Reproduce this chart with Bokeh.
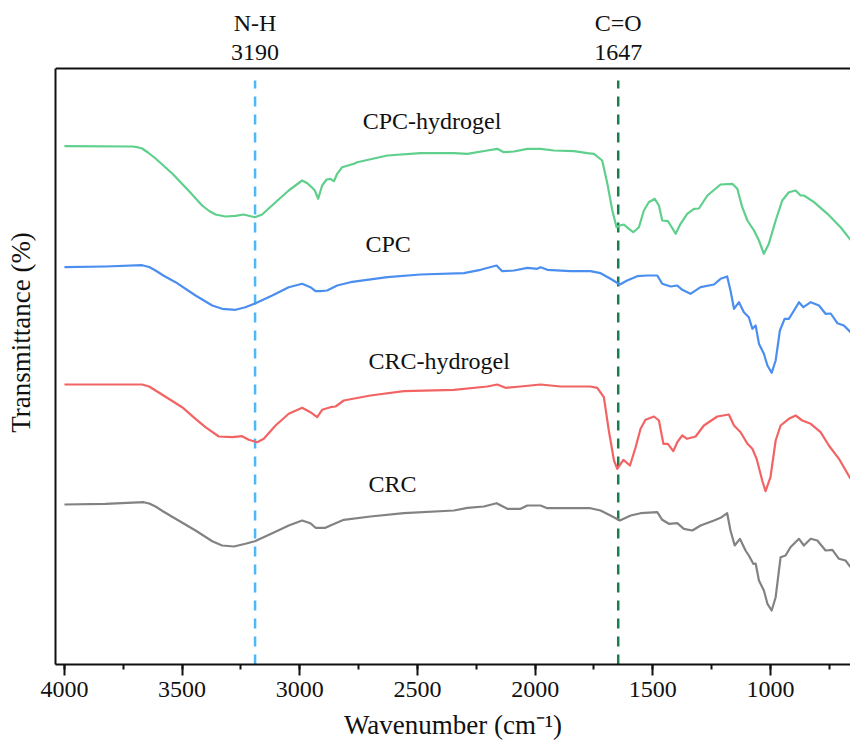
from bokeh.plotting import figure
from bokeh.models import (Range1d, FixedTicker, SingleIntervalTicker, Label, Span)
from bokeh.embed import file_html
from bokeh.resources import INLINE

# ---------------- data (arbitrary transmittance units) ----------------
cpch_wn = [4000, 3712, 3690, 3670, 3645, 3613, 3542, 3473, 3415, 3385, 3358, 3316, 3273, 3239, 3191, 3160, 3103, 3047,
           2990, 2968, 2947, 2936, 2922, 2905, 2886, 2870, 2855, 2841, 2820, 2770, 2756, 2628, 2487,
           2345, 2288, 2203, 2161, 2133, 2090, 2033, 1977, 1920, 1835, 1778, 1750, 1715, 1693, 1672,
           1654, 1640, 1623, 1602, 1583, 1559, 1538, 1517, 1492, 1474, 1460, 1436, 1424, 1403, 1382,
           1354, 1325, 1304, 1268, 1212, 1162, 1141, 1120, 1098, 1070, 1049, 1028, 1007, 978, 950,
           922, 893, 872, 858, 815, 758, 702, 660]
cpch_t = [518.3, 518, 517.3, 516, 512, 506, 491, 474, 459, 453.5, 450, 448, 448.7, 450, 447.3, 450, 462.3, 474,
          484, 481.3, 476.7, 474, 465.7, 479, 485, 485.7, 483.3, 490.7, 497.3, 500.7, 502.3, 509, 511.3,
          511.3, 510.7, 514, 515.7, 512.3, 513, 515.7, 515.7, 514, 513.3, 511.3, 510.7, 504, 480.7, 454,
          437.3, 439, 440, 435.7, 432.3, 437.3, 454, 462.3, 465.7, 459, 444, 443.3, 439, 430.7, 440.7,
          450.7, 455.7, 456, 469, 480, 480.7, 475.7, 457.3, 444, 434, 424, 410.7, 420.7, 444, 464,
          472.3, 474, 469, 469, 462.3, 450.7, 437.3, 424.7]

cpc_wn = [4000, 3826, 3670, 3640, 3613, 3580, 3528, 3443, 3372, 3330, 3273, 3231, 3188, 3117, 3047, 2990, 2955,
          2933, 2912, 2884, 2841, 2785, 2628, 2487, 2303, 2232, 2164, 2140, 2090, 2033, 1991, 1977,
          1948, 1850, 1765, 1722, 1680, 1640, 1609, 1566, 1524, 1481, 1460, 1424, 1396, 1375, 1340,
          1297, 1240, 1212, 1184, 1170, 1155, 1134, 1113, 1092, 1077, 1063, 1049, 1028, 1013, 995,
          978, 960, 940, 922, 900, 879, 860, 829, 794, 766, 744, 716, 688, 660]
cpc_t = [397.3, 398, 399.3, 397.5, 394, 389, 382.3, 369, 359, 355.7, 354.7, 357.3, 361.3, 369, 377.3, 380.7, 377.3,
         373.3, 373.3, 374, 379, 382.3, 387.3, 390, 391.3, 394.7, 399, 393.3, 394, 396.7, 395.7, 397.3,
         394.7, 393.3, 393.3, 391.3, 385.7, 380, 384, 388.3, 389, 389, 380.7, 378, 379, 374.7, 370.7,
         377.3, 380, 385.7, 388, 374, 355.7, 362.3, 352.3, 347.3, 335.7, 339, 320.7, 310.7, 299, 291.7,
         304, 334, 345.7, 345.7, 354, 362.3, 357.3, 362.3, 359, 350.7, 351, 341.3, 339, 332.3]

crch_wn = [4000, 3670, 3640, 3613, 3557, 3500, 3443, 3401, 3344, 3287, 3245, 3217, 3181, 3153, 3103, 3047,
           2990, 2955, 2926, 2905, 2870, 2848, 2813, 2700, 2558, 2345, 2203, 2161, 2126, 2062, 1977,
           1892, 1765, 1736, 1708, 1687, 1665, 1651, 1625, 1597, 1573, 1552, 1531, 1495, 1474, 1455,
           1436, 1413, 1396, 1375, 1354, 1318, 1283, 1226, 1177, 1155, 1127, 1098, 1077, 1059, 1035,
           1021, 1000, 978, 957, 922, 893, 865, 829, 787, 752, 709, 660]
crch_t = [280, 280, 278, 274, 265.7, 257.3, 245.7, 237.3, 228, 227.3, 228.3, 224.7, 222.3, 225.7, 239, 250.7,
          256.7, 252.3, 247.3, 254.7, 257.3, 258, 264, 269, 273.3, 274.7, 278, 280, 276.7, 278, 280,
          278, 278, 276.7, 267.3, 234, 204, 195.7, 204.7, 199, 217.3, 235.7, 244.7, 248, 244, 220.7,
          220.7, 213.3, 222.3, 229, 225.7, 228, 239, 248, 250, 239, 232.3, 220.7, 215.7, 205.7, 184,
          173.3, 187.3, 224, 239, 245.7, 249, 244, 240.7, 232.3, 219, 205.7, 185.7]

crc_wn = [4000, 3826, 3663, 3640, 3613, 3580, 3528, 3443, 3372, 3330, 3280, 3231, 3191, 3117, 3047, 2990, 2955,
          2933, 2891, 2870, 2813, 2700, 2558, 2345, 2288, 2218, 2164, 2118, 2062, 2033, 1977, 1948,
          1850, 1765, 1722, 1680, 1640, 1594, 1552, 1481, 1460, 1432, 1396, 1368, 1332, 1297, 1240,
          1212, 1184, 1170, 1152, 1130, 1106, 1092, 1073, 1063, 1049, 1028, 1013, 995, 978, 957,
          936, 915, 879, 858, 829, 801, 766, 737, 709, 681, 660]
crc_t = [160, 160.7, 162.3, 161, 158, 153, 145.7, 134, 123.3, 119, 118, 120.7, 123.3, 131.3, 139, 144, 141.3,
         136.7, 136.7, 139, 144.7, 148, 151.3, 154, 156.7, 158, 161.3, 155.7, 155.7, 159, 159, 156.3,
         156.3, 156.3, 154, 149, 144, 149, 151.3, 152.3, 144.7, 140.7, 141.3, 135.7, 134, 139, 144,
         146.7, 151.3, 134, 119, 125.7, 114, 109, 100.7, 101, 84, 74, 60.7, 54, 67.3, 107.3,
         109, 117.3, 125.7, 119, 125.7, 124, 114, 114.7, 105.7, 104, 97.3]

series_names = ["CPC-hydrogel", "CPC", "CRC-hydrogel", "CRC"]
series_colors = ["#5fcf8c", "#4a8ef0", "#f26464", "#828282"]
label_wn = [2733, 2721, 2708, 2708]
label_t = [544, 421, 304, 181]

peak_wn = [3190, 1647]
peak_names = ["N-H", "C=O"]
peak_colors = ["#4cb8f5", "#1a7d4e"]
peak_name_t = 642
peak_value_t = 612
dash_top_t = 584
plot_top_t = 596

x_ticks_interval = 500

FONT = "Liberation Serif"
INK = "#111111"

p = figure(width=850, height=747, output_backend="svg", toolbar_location=None,
           x_range=Range1d(4038, 660), y_range=Range1d(0, 664),
           min_border_left=55, min_border_right=0, min_border_top=0, min_border_bottom=83)
p.outline_line_color = None
p.grid.visible = False
p.background_fill_color = "white"
p.border_fill_color = "white"

# bottom axis
xa = p.xaxis[0]
xa.ticker = SingleIntervalTicker(interval=x_ticks_interval, num_minor_ticks=2)
xa.axis_label = "Wavenumber (cm\u207b\u00b9)"
xa.axis_label_text_font = FONT
xa.axis_label_text_font_size = "27px"
xa.axis_label_text_font_style = "normal"
xa.axis_label_text_color = INK
xa.axis_label_standoff = 10
xa.major_label_text_font = FONT
xa.major_label_text_font_size = "24px"
xa.major_label_text_color = INK
xa.major_label_standoff = 6
xa.axis_line_width = 2
xa.axis_line_color = INK
xa.major_tick_line_width = 2
xa.major_tick_line_color = INK
xa.major_tick_out = 11
xa.major_tick_in = 0
xa.minor_tick_line_width = 2
xa.minor_tick_line_color = INK
xa.minor_tick_out = 5
xa.minor_tick_in = 0

# left axis (line only up to the top border of the plot box)
ya = p.yaxis[0]
ya.ticker = FixedTicker(ticks=[])
ya.bounds = (0, plot_top_t)
ya.axis_label = "Transmittance (%)"
ya.axis_label_text_font = FONT
ya.axis_label_text_font_size = "27px"
ya.axis_label_text_font_style = "normal"
ya.axis_label_text_color = INK
ya.axis_label_standoff = 20
ya.axis_line_width = 2
ya.axis_line_color = INK
ya.major_label_text_font_size = "0px"

# top border line of the plot box
p.add_layout(Span(location=plot_top_t, dimension="width", line_color=INK, line_width=2))

# dashed reference lines
for wn, col in zip(peak_wn, peak_colors):
    p.segment(x0=[wn], y0=[0], x1=[wn], y1=[dash_top_t], line_color=col, line_width=2.5, line_dash="10 8")

# spectra
data = [(cpch_wn, cpch_t), (cpc_wn, cpc_t), (crch_wn, crch_t), (crc_wn, crc_t)]
for (wn, t), col in zip(data, series_colors):
    p.line(wn, t, line_color=col, line_width=2.2, line_join="round")

for name, lx, ly in zip(series_names, label_wn, label_t):
    p.add_layout(Label(x=lx, y=ly, text=name, text_font=FONT, text_font_size="24px",
                       text_color=INK, text_baseline="alphabetic", text_align="left"))

for name, wn in zip(peak_names, peak_wn):
    p.add_layout(Label(x=wn, y=peak_name_t, text=name, text_font=FONT, text_font_size="24px",
                       text_color=INK, text_baseline="alphabetic", text_align="center"))
    p.add_layout(Label(x=wn, y=peak_value_t, text=str(wn), text_font=FONT, text_font_size="24px",
                       text_color=INK, text_baseline="alphabetic", text_align="center"))

open("out.html", "w").write(file_html(p, INLINE))
